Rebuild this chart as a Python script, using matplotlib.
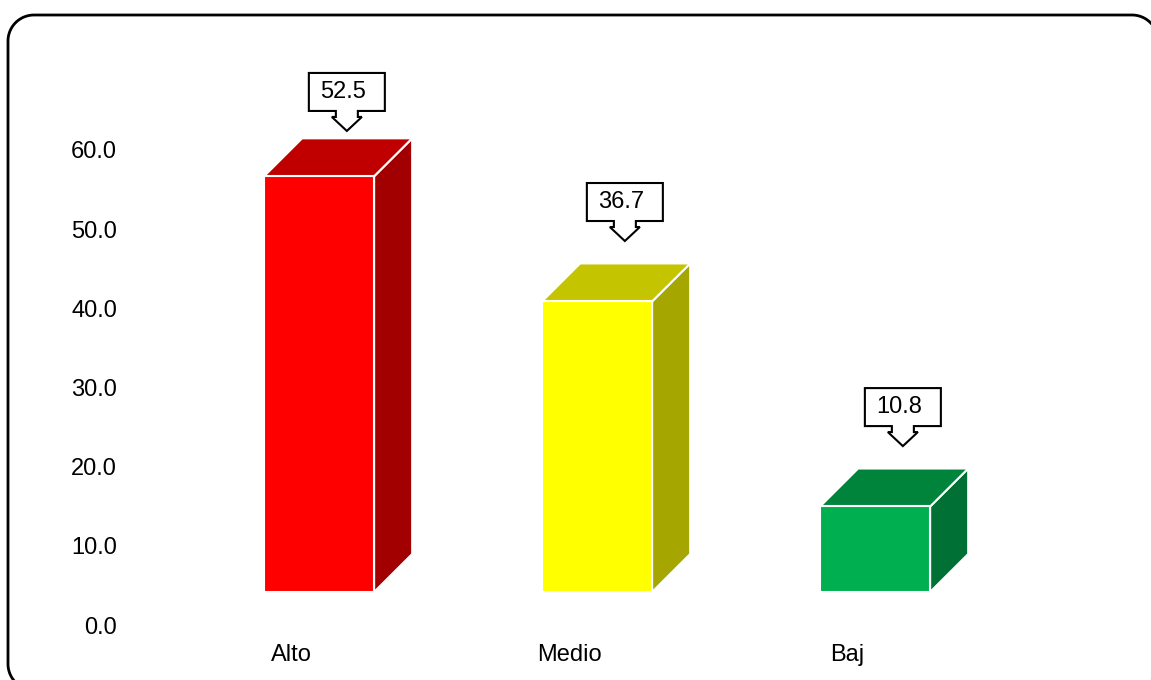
import matplotlib
matplotlib.use("Agg")
import numpy as np
import matplotlib.pyplot as plt
from matplotlib.patches import Polygon
import matplotlib.transforms as mtransforms

# data
categories = ["Alto", "Medio", "Baj"]
values = [52.5, 36.7, 10.8]
front_colors = ["#FF0000", "#FFFF00", "#00B050"]
top_colors = ["#C00000", "#C4C400", "#00843C"]
side_colors = ["#A20000", "#A6A600", "#007034"]
yticks = [0, 10, 20, 30, 40, 50, 60]

plt.rcParams["font.family"] = ["Liberation Sans", "DejaVu Sans"]
FS = 17

W, H = 1151, 680
fig = plt.figure(figsize=(W / 100, H / 100), dpi=100)


def rounded_box(x0, y0, x1, y1, r, n=24):
    """rounded rectangle outline as a polyline (y grows downward)"""
    mid = ((x0 + x1) / 2, y0)
    pts = [mid]
    corners = [(x1 - r, y0 + r, -90), (x1 - r, y1 - r, 0),
               (x0 + r, y1 - r, 90), (x0 + r, y0 + r, 180)]
    for cx, cy, a0 in corners:
        a = np.radians(np.linspace(a0, a0 + 90, n))
        pts += list(zip(cx + r * np.cos(a), cy + r * np.sin(a)))
    pts.append(mid)
    return np.array(pts)


# background axes in pixel units, only for the rounded border
bg = fig.add_axes([0, 0, 1, 1])
bg.set_xlim(0, W)
bg.set_ylim(H, 0)
bg.axis("off")
b = rounded_box(8, 15, 1158, 690, 26)
bg.plot(b[:, 0], b[:, 1], color="black", lw=2, solid_joinstyle="round",
        solid_capstyle="butt")

ax = fig.add_axes([125 / W, 10 / H, 1000 / W, 640 / H])
ax.set_xlim(-0.698, 2.899)
ax.set_ylim(-5.68, 75.15)

FLOOR = 4.17      # front face sits above the floor line
BW = 0.396        # bar width (x units)
DX, DY = 0.137, 4.8   # 3d depth offset

for i, (v, fc, tc, sc) in enumerate(zip(values, front_colors, top_colors, side_colors)):
    x0, x1 = i - BW / 2, i + BW / 2
    y0, y1 = FLOOR, FLOOR + v
    side = Polygon([(x1, y0), (x1 + DX, y0 + DY), (x1 + DX, y1 + DY), (x1, y1)],
                   facecolor=sc, edgecolor="white", lw=1.5, joinstyle="miter")
    top = Polygon([(x0, y1), (x1, y1), (x1 + DX, y1 + DY), (x0 + DX, y1 + DY)],
                  facecolor=tc, edgecolor="white", lw=1.5, joinstyle="miter")
    front = Polygon([(x0, y0), (x1, y0), (x1, y1), (x0, y1)],
                    facecolor=fc, edgecolor="white", lw=1.5, joinstyle="miter")
    for p in (side, top, front):
        ax.add_patch(p)

    # callout label, shape drawn in pixel offsets around the arrow tip
    tip_y = min(v + 11.8, 62.4)
    tr = mtransforms.Affine2D() + mtransforms.ScaledTranslation(i + 0.1, tip_y, ax.transData)
    shape = [(0, 0), (15, 14), (11, 14), (11, 20), (38, 20), (38, 58),
             (-38, 58), (-38, 20), (-11, 20), (-11, 14), (-15, 14)]
    ax.add_patch(Polygon(shape, closed=True, facecolor="white", edgecolor="black",
                         lw=1.5, transform=tr, clip_on=False))
    ax.text(-4, 39, f"{v:.1f}", transform=tr, ha="center", va="center",
            fontsize=FS, color="black", clip_on=False)

    ax.text(i - 0.1, -3.8, categories[i], ha="center", va="center",
            fontsize=FS, color="black")

ax.set_yticks(yticks)
ax.set_yticklabels([f"{t:.1f}" for t in yticks], fontsize=FS)
ax.set_xticks([])
ax.tick_params(axis="y", length=0, pad=5.8)
for s in ax.spines.values():
    s.set_visible(False)
ax.patch.set_alpha(0)

fig.savefig("out.png", dpi=100)
